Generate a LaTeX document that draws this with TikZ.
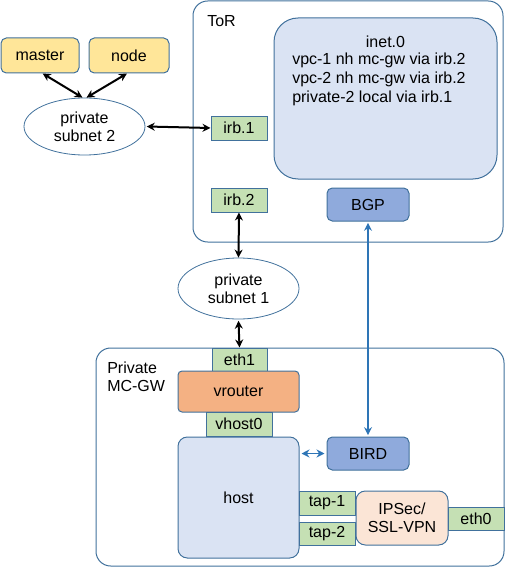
\documentclass[tikz,border=0pt]{standalone}
\usepackage{fontspec}
\setmainfont{Liberation Sans}
\usetikzlibrary{arrows.meta,shapes.geometric}
\definecolor{edgeblue}{HTML}{41719C}
\definecolor{linkblue}{HTML}{2E75B6}
\definecolor{hostfill}{HTML}{DAE3F3}
\definecolor{bgpfill}{HTML}{8FAADC}
\definecolor{portfill}{HTML}{C5E0B4}
\definecolor{kfill}{HTML}{FFE699}
\definecolor{vrfill}{HTML}{F4B183}
\definecolor{vpnfill}{HTML}{FBE5D6}
\tikzset{
  box/.style={draw=edgeblue,line width=0.75pt,rounded corners=4pt,inner sep=0pt,align=center},
  port/.style={draw=edgeblue,line width=0.75pt,fill=portfill,inner sep=0pt,minimum width=42pt,minimum height=18pt},
  subnet/.style={draw=edgeblue,ellipse,line width=0.6pt,inner sep=0pt,align=center,minimum width=90.75pt},
  frame/.style={draw=edgeblue,line width=0.75pt,rounded corners=11pt,inner sep=0pt},
  link/.style={<->,>={Stealth[length=6pt,width=6pt]},line width=1.5pt},
  bluelink/.style={link,draw=linkblue,line width=1.3pt}
}
\begin{document}
\begin{tikzpicture}[x=0.75pt,y=-0.75pt,font=\fontsize{12}{13.5}\selectfont]
  \useasboundingbox (0,0) rectangle (505,567);
  % outer frames
  \node[frame,minimum width=232.5pt,minimum height=180.75pt] (tor) at (348,121.5) {};
  \node[frame,minimum width=306pt,minimum height=163.5pt] (mcgw) at (300,457) {};
  \node[anchor=west,inner sep=0pt] (torlabel) at (207,21) {ToR};
  \node[anchor=west,inner sep=0pt,align=left] (mcgwlabel) at (107,376.5) {Private\\MC-GW};
  % k8s side
  \node[box,fill=kfill,minimum width=58.5pt,minimum height=26.25pt] (master) at (40,55.5) {master};
  \node[box,fill=kfill,minimum width=60pt,minimum height=26.25pt] (node) at (129,55.5) {node};
  \node[subnet,minimum height=42.75pt] (sub2) at (84.5,126.5) {private\\subnet 2};
  \node[subnet,minimum height=45.75pt] (sub1) at (238.5,288.5) {private\\subnet 1};
  % ToR
  \node[port] (irb1) at (239,128) {irb.1};
  \node[port] (irb2) at (239,200) {irb.2};
  \node[box,fill=hostfill,rounded corners=18pt,minimum width=167.25pt,minimum height=120.75pt] (rib) at (385.5,98.5) {};
  \node[inner sep=0pt] (ribname) at (385.5,42) {inet.0};
  \node[anchor=west,inner sep=0pt,align=left,font=\fontsize{12}{14.25}\selectfont] (routes) at (292,79.5)
    {vpc-1 nh mc-gw via irb.2\\vpc-2 nh mc-gw via irb.2\\private-2 local via irb.1};
  \node[box,fill=bgpfill,minimum width=61.5pt,minimum height=24.75pt] (bgp) at (368,204.5) {BGP};
  % MC-GW
  \node[port,minimum width=41.25pt,minimum height=17.25pt] (eth1) at (239.5,359.5) {eth1};
  \node[box,fill=vrfill,rounded corners=3pt,minimum width=90.75pt,minimum height=30.75pt] (vrouter) at (238.5,391.5) {vrouter};
  \node[port,minimum width=49.5pt] (vhost0) at (239,424) {vhost0};
  \node[box,fill=hostfill,rounded corners=7pt,minimum width=90.75pt,minimum height=90.75pt] (host) at (238.5,497.5) {host};
  \node[box,fill=bgpfill,minimum width=61.5pt,minimum height=24.75pt] (bird) at (368,453.5) {BIRD};
  \node[port] (tap1) at (327,503) {tap-1};
  \node[port,minimum height=17.25pt] (tap2) at (327,533.5) {tap-2};
  \node[box,fill=vpnfill,rounded corners=7pt,minimum width=69pt,minimum height=40.5pt] (vpn) at (402,518) {IPSec/\\SSL-VPN};
  \node[port,minimum height=17.25pt] (eth0) at (476,518.5) {eth0};
  \begin{scope}[link]
    \draw ([xshift=2pt]master.south) to ([xshift=-1.5pt]sub2.north);
    \draw ([xshift=-1.5pt]node.south) to ([xshift=1.5pt]sub2.north);
    \draw ([xshift=1pt]sub2.east) to (irb1.west);
    \draw (irb2.south) to (sub1.north);
    \draw ([yshift=-1pt]sub1.south) to (eth1.north);
  \end{scope}
  \begin{scope}[bluelink]
    \draw ([yshift=-1pt]bgp.south) to ([yshift=1pt]bird.north);
    \draw ([xshift=1.5pt]host.east |- bird.west) to ([xshift=-1.5pt]bird.west);
  \end{scope}
\end{tikzpicture}
\end{document}
